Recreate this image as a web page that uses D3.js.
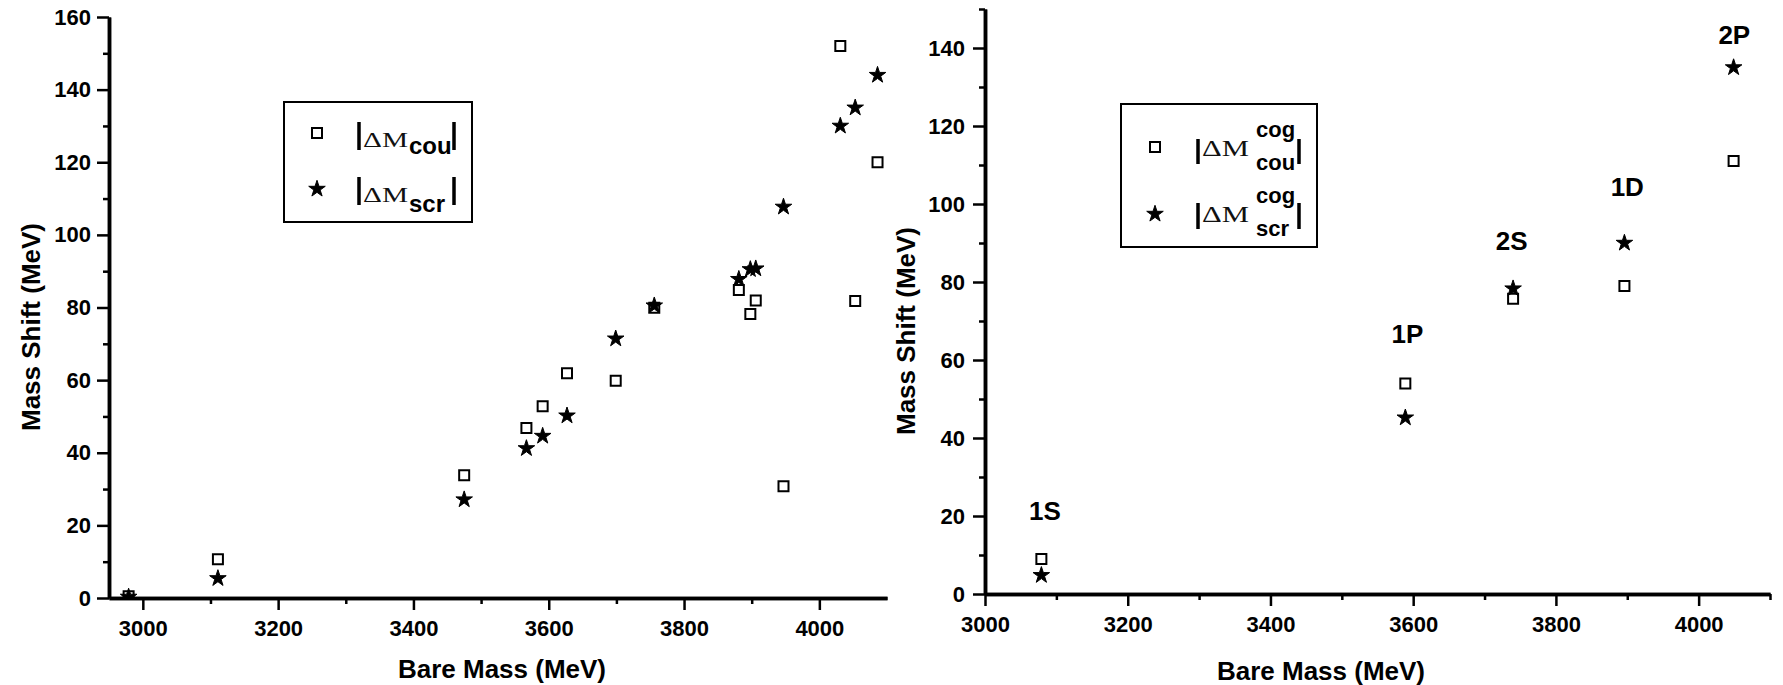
<!DOCTYPE html>
<html>
<head>
<meta charset="utf-8">
<script src="https://cdn.jsdelivr.net/npm/d3@7"></script>
<style>
  body { margin: 0; background: #fff; }
  svg { display: block; }
  .tick text { font-family: "Liberation Sans", Arial, sans-serif; font-weight: bold; font-size: 22px; fill: #000; }
  .axis-label { font-family: "Liberation Sans", Arial, sans-serif; font-weight: bold; font-size: 26px; fill: #000; }
  .state-label { font-family: "Liberation Sans", Arial, sans-serif; font-weight: bold; font-size: 26px; fill: #000; }
</style>
</head>
<body>
<div id="chart"></div>
<script>
// Left panel: all states
const leftBareMass = [2979, 3111, 3475, 3567, 3591, 3627, 3699, 3756, 3881, 3898, 3906, 3947, 4031, 4053, 4086];
const leftCou = [0.5, 10.7, 33.8, 46.8, 52.8, 61.9, 59.8, 79.9, 84.8, 78.2, 81.9, 30.8, 152, 81.8, 120];
const leftScr = [0.3, 5.4, 27.1, 41.2, 44.6, 50.2, 71.4, 80.5, 87.8, 90.5, 90.7, 107.7, 130, 135, 144];
const leftXTicks = [3000, 3200, 3400, 3600, 3800, 4000];
const leftXMinor = [3100, 3300, 3500, 3700, 3900];
const leftYTicks = [0, 20, 40, 60, 80, 100, 120, 140, 160];
const leftYMinor = [10, 30, 50, 70, 90, 110, 130, 150];

// Right panel: centre of gravity
const cogStates = ["1S", "1P", "2S", "1D", "2P"];
const cogBareMass = [3079, 3589, 3740, 3896, 4049];
const cogCou = [9, 54, 75.7, 79, 111];
const cogScr = [4.8, 45.2, 78.3, 90, 135];
const cogLabelX = [3084, 3592, 3738, 3900, 4050];
const cogLabelY = [21.5, 66.8, 90.5, 104.4, 143.4];
const rightXTicks = [3000, 3200, 3400, 3600, 3800, 4000];
const rightXMinor = [3100, 3300, 3500, 3700, 3900, 4100];
const rightYTicks = [0, 20, 40, 60, 80, 100, 120, 140];
const rightYMinor = [10, 30, 50, 70, 90, 110, 130, 150];

const width = 1783;
const height = 685;

const svg = d3.select("#chart")
              .append("svg")
              .attr("width", width)
              .attr("height", height);

const squareSym = d3.symbol().type(d3.symbolSquare).size(100);
const starSym = d3.symbol().type(d3.symbolStar).size(85);

const drawPanel = (cfg) => {
    const xScale = d3.scaleLinear().domain(cfg.xDomain).range(cfg.xRange);
    const yScale = d3.scaleLinear().domain(cfg.yDomain).range(cfg.yRange);

    const g = svg.append("g");

    // clip so points at zero sit on the axis
    g.append("clipPath")
     .attr("id", cfg.id + "-clip")
     .append("rect")
     .attr("x", cfg.xRange[0])
     .attr("y", cfg.yRange[1] - 20)
     .attr("width", cfg.xRange[1] - cfg.xRange[0] + 20)
     .attr("height", cfg.yRange[0] - cfg.yRange[1] + 20);

    const pts = g.append("g").attr("clip-path", `url(#${cfg.id}-clip)`);

    pts.selectAll(".cou")
       .data(cfg.bare)
       .enter()
       .append("path")
       .attr("class", "cou")
       .attr("d", squareSym)
       .attr("transform", (d, i) => `translate(${xScale(d)},${yScale(cfg.cou[i])})`)
       .attr("fill", "#fff")
       .attr("stroke", "#000")
       .attr("stroke-width", 2);

    pts.selectAll(".scr")
       .data(cfg.bare)
       .enter()
       .append("path")
       .attr("class", "scr")
       .attr("d", starSym)
       .attr("transform", (d, i) => `translate(${xScale(d)},${yScale(cfg.scr[i])})`)
       .attr("fill", "#000")
       .attr("stroke", "#000")
       .attr("stroke-width", 1);

    // Axes
    const styleAxis = (sel) => {
        sel.select(".domain").attr("stroke-width", 3.5);
        sel.selectAll(".tick line").attr("stroke-width", 2.5);
    };

    g.append("g")
     .attr("transform", `translate(0, ${cfg.yRange[0]})`)
     .call(d3.axisBottom(xScale).tickValues(cfg.xMinor).tickSize(6).tickSizeOuter(0).tickFormat(""))
     .call(styleAxis);
    g.append("g")
     .attr("transform", `translate(0, ${cfg.yRange[0]})`)
     .call(d3.axisBottom(xScale).tickValues(cfg.xTicks).tickSize(12).tickSizeOuter(0).tickPadding(10).tickFormat(d3.format("d")))
     .call(styleAxis);

    g.append("g")
     .attr("transform", `translate(${cfg.xRange[0]}, 0)`)
     .call(d3.axisLeft(yScale).tickValues(cfg.yMinor).tickSize(6).tickSizeOuter(0).tickFormat(""))
     .call(styleAxis);
    g.append("g")
     .attr("transform", `translate(${cfg.xRange[0]}, 0)`)
     .call(d3.axisLeft(yScale).tickValues(cfg.yTicks).tickSize(12).tickSizeOuter(0).tickPadding(cfg.yPad))
     .call(styleAxis);

    g.append("text")
     .attr("class", "axis-label")
     .attr("x", cfg.xTitle[0])
     .attr("y", cfg.xTitle[1])
     .attr("text-anchor", "middle")
     .text("Bare Mass (MeV)");

    g.append("text")
     .attr("class", "axis-label")
     .attr("transform", `translate(${cfg.yTitle[0]}, ${cfg.yTitle[1]}) rotate(-90)`)
     .attr("text-anchor", "middle")
     .text("Mass Shift (MeV)");

    return { xScale, yScale, g };
};

const left = drawPanel({
    id: "left",
    xDomain: [2950, 4100], xRange: [109, 887],
    yDomain: [0, 160], yRange: [598, 17],
    bare: leftBareMass, cou: leftCou, scr: leftScr,
    xTicks: leftXTicks, xMinor: leftXMinor,
    yTicks: leftYTicks, yMinor: leftYMinor, yPad: 6,
    xTitle: [502, 678], yTitle: [40, 327]
});

const right = drawPanel({
    id: "right",
    xDomain: [3000, 4100], xRange: [985, 1770],
    yDomain: [0, 150], yRange: [594, 9],
    bare: cogBareMass, cou: cogCou, scr: cogScr,
    xTicks: rightXTicks, xMinor: rightXMinor,
    yTicks: rightYTicks, yMinor: rightYMinor, yPad: 8,
    xTitle: [1321, 680], yTitle: [915, 331]
});

// State labels on the right panel
right.g.selectAll(".state-label")
       .data(cogStates)
       .enter()
       .append("text")
       .attr("class", "state-label")
       .attr("x", (d, i) => right.xScale(cogLabelX[i]))
       .attr("y", (d, i) => right.yScale(cogLabelY[i]))
       .attr("dy", "0.36em")
       .attr("text-anchor", "middle")
       .text(d => d);

// Legends
const bar = (g, x, y1, y2) => {
    g.append("line")
     .attr("x1", x).attr("x2", x)
     .attr("y1", y1).attr("y2", y2)
     .attr("stroke", "#000")
     .attr("stroke-width", 3.5);
};

const serif = (g, x, y, size, len) => {
    g.append("text")
     .attr("x", x).attr("y", y)
     .attr("textLength", len)
     .attr("lengthAdjust", "spacingAndGlyphs")
     .style("font-family", "'Liberation Serif', 'Times New Roman', serif")
     .style("font-size", size + "px")
     .attr("fill", "#111")
     .text("\u0394M");
};

const sans = (g, x, y, size, txt) => {
    g.append("text")
     .attr("x", x).attr("y", y)
     .style("font-family", "'Liberation Sans', Arial, sans-serif")
     .style("font-weight", "bold")
     .style("font-size", size + "px")
     .attr("fill", "#000")
     .text(txt);
};

// left legend
const lg = svg.append("g");
lg.append("rect")
  .attr("x", 284).attr("y", 102).attr("width", 188).attr("height", 120)
  .attr("fill", "#fff").attr("stroke", "#000").attr("stroke-width", 2);
lg.append("path").attr("d", squareSym).attr("transform", "translate(317,133)")
  .attr("fill", "#fff").attr("stroke", "#000").attr("stroke-width", 2);
lg.append("path").attr("d", starSym).attr("transform", "translate(317,189)")
  .attr("fill", "#000").attr("stroke", "#000").attr("stroke-width", 1);
bar(lg, 359, 122, 150);
serif(lg, 363, 147, 22, 45);
sans(lg, 409, 154, 24, "cou");
bar(lg, 454, 122, 150);
bar(lg, 359, 177, 205);
serif(lg, 363, 202, 22, 45);
sans(lg, 409, 212, 24, "scr");
bar(lg, 454, 177, 205);

// right legend
const rg = svg.append("g");
rg.append("rect")
  .attr("x", 1121).attr("y", 104).attr("width", 196).attr("height", 143)
  .attr("fill", "#fff").attr("stroke", "#000").attr("stroke-width", 2);
rg.append("path").attr("d", squareSym).attr("transform", "translate(1155,147)")
  .attr("fill", "#fff").attr("stroke", "#000").attr("stroke-width", 2);
rg.append("path").attr("d", starSym).attr("transform", "translate(1155,214)")
  .attr("fill", "#000").attr("stroke", "#000").attr("stroke-width", 1);
bar(rg, 1198, 139, 164);
serif(rg, 1202, 156, 23, 47);
sans(rg, 1256, 137, 22, "cog");
sans(rg, 1256, 170, 22, "cou");
bar(rg, 1299, 139, 164);
bar(rg, 1198, 203, 229);
serif(rg, 1202, 222, 23, 47);
sans(rg, 1256, 203, 22, "cog");
sans(rg, 1256, 236, 22, "scr");
bar(rg, 1299, 203, 229);
</script>
</body>
</html>
